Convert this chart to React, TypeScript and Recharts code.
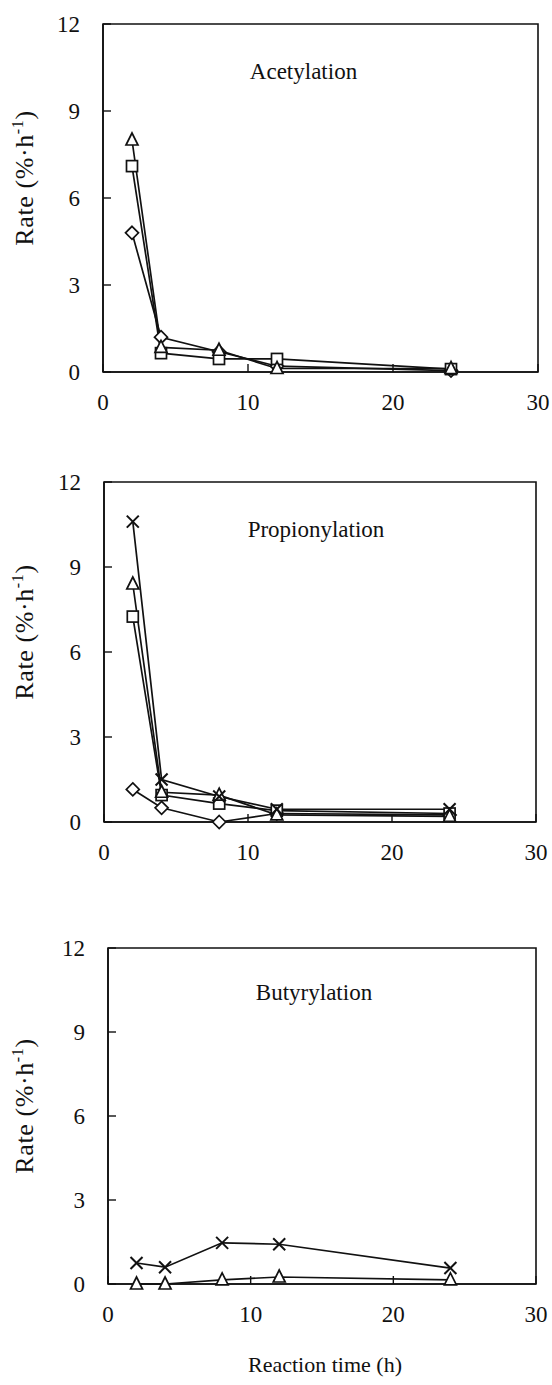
import React from 'react';
import { LineChart, Line, XAxis, YAxis, ReferenceArea } from 'recharts';

// Sampling times (h) and axis ticks
const times = [2, 4, 8, 12, 24];
const xTicks = [0, 10, 20, 30];
const yTicks = [0, 3, 6, 9, 12];

// Acetylation rates (%·h-1)
const acetylSquare = [7.1, 0.65, 0.45, 0.45, 0.1];
const acetylTriangle = [8.0, 0.85, 0.75, 0.12, 0.12];
const acetylDiamond = [4.8, 1.2, 0.7, 0.2, 0.05];

// Propionylation rates (%·h-1)
const propCross = [10.6, 1.5, 0.9, 0.45, 0.45];
const propTriangle = [8.4, 1.05, 0.95, 0.25, 0.2];
const propSquare = [7.25, 0.95, 0.65, 0.4, 0.3];
const propDiamond = [1.15, 0.5, 0.0, 0.3, 0.25];

// Butyrylation rates (%·h-1)
const butCross = [0.75, 0.6, 1.47, 1.42, 0.57];
const butTriangle = [0.0, 0.0, 0.15, 0.25, 0.15];

const FONT = "'Liberation Serif', 'Times New Roman', serif";
const INK = '#111';

type Marker = 'square' | 'triangle' | 'diamond' | 'cross';

const makeDot = (shape: Marker) => (props: any) => {
  const { cx, cy, index } = props;
  const k = `${shape}-${index}`;
  if (cx == null || cy == null) return <g key={k} />;
  const sw = 1.7;
  if (shape === 'square') {
    return <rect key={k} x={cx - 5.5} y={cy - 5.5} width={11} height={11} fill="#fff" stroke={INK} strokeWidth={sw} />;
  }
  if (shape === 'triangle') {
    return (
      <polygon key={k} points={`${cx},${cy - 7} ${cx - 6},${cy + 5} ${cx + 6},${cy + 5}`}
        fill="#fff" stroke={INK} strokeWidth={sw} strokeLinejoin="miter" />
    );
  }
  if (shape === 'diamond') {
    return (
      <polygon key={k} points={`${cx},${cy - 6.5} ${cx + 6.5},${cy} ${cx},${cy + 6.5} ${cx - 6.5},${cy}`}
        fill="#fff" stroke={INK} strokeWidth={sw} />
    );
  }
  return (
    <g key={k} stroke={INK} strokeWidth={2}>
      <line x1={cx - 6} y1={cy - 6} x2={cx + 6} y2={cy + 6} />
      <line x1={cx - 6} y1={cy + 6} x2={cx + 6} y2={cy - 6} />
    </g>
  );
};

type SeriesDef = { key: string; values: number[]; shape: Marker };

type PanelProps = {
  title: string;
  series: SeriesDef[];
  plotTop: number;
  plotBottom: number;
  plotLeft: number;
  plotRight: number;
  titleDx: number;
  titleDy: number;
  rateDy: number;
};

const textStyle = { fontFamily: FONT };

const rateLabel = (dy: number) => (props: any) => {
  const vb = props.viewBox || {};
  const x = 33;
  const y = (vb.y ?? 0) + (vb.height ?? 0) / 2 + dy;
  return (
    <text x={x} y={y} transform={`rotate(-90, ${x}, ${y})`} textAnchor="middle"
      style={textStyle} fontSize={26} letterSpacing={0.6} fill={INK}>
      Rate (%·h
      <tspan dy={-10} fontSize={16}>-1</tspan>
      <tspan dy={10}>)</tspan>
    </text>
  );
};

const titleLabel = (title: string, dx: number, dy: number) => (props: any) => {
  const vb = props.viewBox || {};
  return (
    <text x={vb.x + vb.width / 2 + dx} y={vb.y + dy} textAnchor="middle"
      style={textStyle} fontSize={23} fill={INK}>
      {title}
    </text>
  );
};

function Panel({ title, series, plotTop, plotBottom, plotLeft, plotRight, titleDx, titleDy, rateDy }: PanelProps) {
  const marginTop = 20;
  const axisH = 60;
  const height = plotBottom - plotTop + marginTop + axisH;
  const rows = times.map((t, i) => {
    const r: Record<string, number> = { t };
    series.forEach((s) => { r[s.key] = s.values[i]; });
    return r;
  });
  const tickStyle = { fontFamily: FONT, fontSize: 23, fill: INK, style: textStyle };
  return (
    <div style={{ position: 'absolute', left: 0, top: plotTop - marginTop }}>
      <LineChart width={552} height={height} data={rows} style={textStyle}
        margin={{ top: marginTop, right: 552 - plotRight, left: 0, bottom: 0 }}>
        <XAxis type="number" dataKey="t" domain={[0, 30]} ticks={xTicks} height={axisH}
          tickSize={-8} tickMargin={30} tick={tickStyle}
          axisLine={{ stroke: INK, strokeWidth: 1.6 }} tickLine={{ stroke: INK, strokeWidth: 1.4 }} />
        <YAxis type="number" domain={[0, 12]} ticks={yTicks} width={plotLeft}
          tickSize={-8} tickMargin={31} tick={tickStyle}
          axisLine={{ stroke: INK, strokeWidth: 1.6 }} tickLine={{ stroke: INK, strokeWidth: 1.4 }}
          label={{ content: rateLabel(rateDy) }} />
        <ReferenceArea x1={0} x2={30} y1={0} y2={12} fill="none" stroke={INK} strokeWidth={1.6}
          ifOverflow="visible" label={{ content: titleLabel(title, titleDx, titleDy) }} />
        {series.map((s) => (
          <Line key={s.key} type="linear" dataKey={s.key} stroke={INK} strokeWidth={1.7}
            dot={makeDot(s.shape)} activeDot={false} isAnimationActive={false} />
        ))}
      </LineChart>
    </div>
  );
}

export default function App() {
  return (
    <div style={{ position: 'absolute', left: 0, top: 0, width: 552, height: 1385, background: '#fff', fontFamily: FONT }}>
      <Panel title="Acetylation" plotTop={24} plotBottom={372} plotLeft={103} plotRight={538}
        titleDx={-17} titleDy={55} rateDy={-20}
        series={[
          { key: 'diamond', values: acetylDiamond, shape: 'diamond' },
          { key: 'square', values: acetylSquare, shape: 'square' },
          { key: 'triangle', values: acetylTriangle, shape: 'triangle' },
        ]} />
      <Panel title="Propionylation" plotTop={482} plotBottom={822} plotLeft={104} plotRight={536}
        titleDx={-4} titleDy={55} rateDy={-20}
        series={[
          { key: 'diamond', values: propDiamond, shape: 'diamond' },
          { key: 'square', values: propSquare, shape: 'square' },
          { key: 'triangle', values: propTriangle, shape: 'triangle' },
          { key: 'cross', values: propCross, shape: 'cross' },
        ]} />
      <Panel title="Butyrylation" plotTop={948} plotBottom={1284} plotLeft={108} plotRight={536}
        titleDx={-8} titleDy={52} rateDy={-10}
        series={[
          { key: 'triangle', values: butTriangle, shape: 'triangle' },
          { key: 'cross', values: butCross, shape: 'cross' },
        ]} />
      <div style={{ position: 'absolute', left: 0, top: 1350, width: 552 }}>
        <svg width={552} height={30}>
          <text x={325} y={22} textAnchor="middle" style={textStyle} fontSize={22} fill={INK}>Reaction time (h)</text>
        </svg>
      </div>
    </div>
  );
}
